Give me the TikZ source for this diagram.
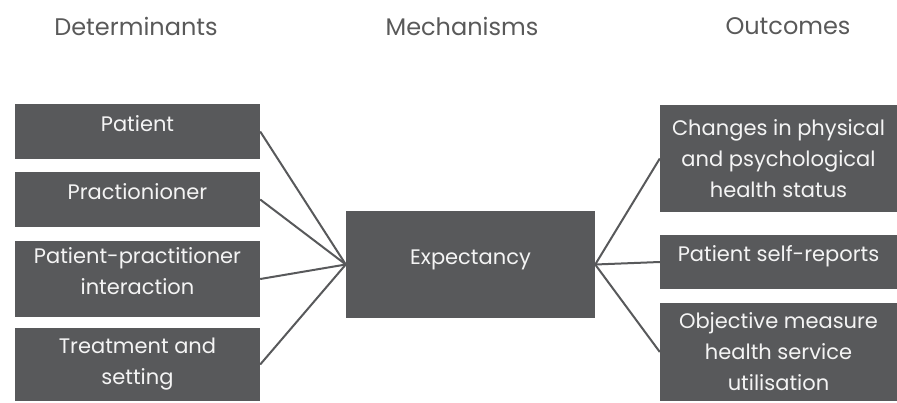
\documentclass[tikz,border=0pt]{standalone}
\usepackage{fontspec}
\setmainfont{Poppins}
\usepackage{xcolor}
\definecolor{boxgray}{HTML}{58595B}
\definecolor{headgray}{HTML}{595959}
\definecolor{boxtext}{HTML}{F4F4F4}
\tikzset{
  stage/.style={text=headgray, font=\fontsize{24}{28}\selectfont},
  factor/.style={fill=boxgray, text=boxtext, align=center, inner sep=0pt,
    font=\fontsize{21}{31}\selectfont},
  oneline/.style={text height=15pt, text depth=16pt},
  link/.style={draw=boxgray, line width=2pt}
}
\begin{document}
\begin{tikzpicture}[x=1pt,y=-1pt]
\useasboundingbox (0,0) rectangle (897,402);
\node[stage] (determinants) at (136,26) {Determinants};
\node[stage] (mechanisms) at (462,26) {Mechanisms};
\node[stage] (outcomes) at (788,26) {Outcomes};

\node[factor, oneline, minimum width=245pt, minimum height=55pt] (patient) at (137.5,131.5) {Patient};
\node[factor, oneline, minimum width=245pt, minimum height=55pt] (practionioner) at (137.5,199.5) {Practionioner};
\node[factor, text depth=16pt, minimum width=245pt, minimum height=76pt] (interaction) at (137.5,279) {Patient-practitioner\\interaction};
\node[factor, minimum width=245pt, minimum height=73pt] (treatment) at (137.5,364.5) {Treatment and\\setting};

\node[factor, oneline, minimum width=249pt, minimum height=107pt] (expectancy) at (470.5,264.5) {Expectancy};

\node[factor, minimum width=237pt, minimum height=107pt] (changes) at (778.5,158.5) {Changes in physical\\and psychological\\health status};
\node[factor, oneline, minimum width=237pt, minimum height=54pt] (selfreports) at (778.5,262) {Patient self-reports};
\node[factor, minimum width=237pt, minimum height=98pt] (objective) at (778.5,352) {Objective measure\\health service\\utilisation};

\foreach \src in {patient,practionioner,interaction,treatment}
  \draw[link] (\src.east) -- (expectancy.west);
\foreach \dst in {changes,selfreports,objective}
  \draw[link] (expectancy.east) -- (\dst.west);
\end{tikzpicture}
\end{document}
